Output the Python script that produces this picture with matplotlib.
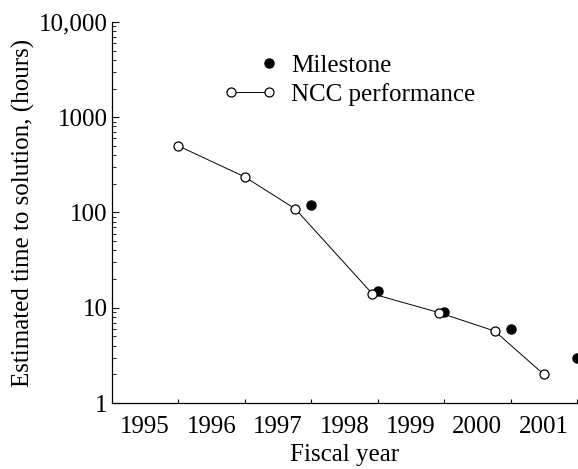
import numpy as np
import matplotlib
matplotlib.use("Agg")
import matplotlib.pyplot as plt
from matplotlib.legend_handler import HandlerLine2D

# Datos
fiscal_years = [1995, 1996, 1997, 1998, 1999, 2000, 2001]

ncc_x = [1996.0, 1997.0, 1997.76, 1998.92, 1999.92, 2000.76, 2001.5]
ncc_hours = [500, 236, 109, 14, 8.9, 5.7, 2.0]

milestone_x = [1998.0, 1999.0, 2000.0, 2001.0, 2002.0]
milestone_hours = [120, 15, 9, 6, 3]

ytick_values = [1, 10, 100, 1000, 10000]
ytick_labels = ["1", "10", "100", "1000", "10,000"]


class RightDot(HandlerLine2D):
    # marcador solo en el extremo derecho del manejador de la leyenda
    def create_artists(self, *args, **kwargs):
        arts = super().create_artists(*args, **kwargs)
        arts[0].set_markevery([len(arts[0].get_xdata()) - 1])
        return arts


plt.rcParams['font.family'] = ['Liberation Serif', 'DejaVu Serif']
fs = 18

fig = plt.figure(figsize=(5.78, 4.69), dpi=100)
ax = fig.add_axes([112 / 578, 66 / 469, 465 / 578, 381 / 469])

ncc, = ax.plot(ncc_x, ncc_hours, color='black', lw=0.7, marker='o', ms=6.5,
               mfc='white', mec='black', mew=0.9, label='NCC performance', zorder=3)
ms, = ax.plot(milestone_x, milestone_hours, ls='none', marker='o', ms=6.5,
              color='black', label='Milestone', clip_on=False, zorder=2)

ax.set_yscale('log')
ax.set_ylim(1, 10000)
ax.set_xlim(1995, 2002)

ax.set_yticks(ytick_values)
ax.set_yticklabels(ytick_labels)
ax.yaxis.set_minor_locator(matplotlib.ticker.LogLocator(base=10, subs=np.arange(2, 10)))
ax.yaxis.set_minor_formatter(matplotlib.ticker.NullFormatter())

# marcas en los limites de cada anio, etiquetas centradas en el intervalo
ax.set_xticks([y + 1 for y in fiscal_years])
ax.set_xticklabels([])
ax.set_xticks([y + 0.5 for y in fiscal_years], [str(y) for y in fiscal_years], minor=True)

ax.tick_params(axis='y', which='major', direction='in', length=5, width=0.8, pad=3, labelsize=fs)
ax.tick_params(axis='y', which='minor', direction='in', length=3, width=0.6)
ax.tick_params(axis='x', which='major', direction='in', length=3, width=0.8)
ax.tick_params(axis='x', which='minor', length=0, pad=9.5, labelsize=fs)

for side in ['top', 'right']:
    ax.spines[side].set_visible(False)
for side in ['left', 'bottom']:
    ax.spines[side].set_linewidth(0.9)

ax.set_xlabel('Fiscal year', fontsize=fs, labelpad=4)
ax.set_ylabel('Estimated time to solution, (hours)', fontsize=fs, labelpad=3)

ax.legend([ms, ncc], ['Milestone', 'NCC performance'], loc='upper left',
          bbox_to_anchor=(0.24, 0.915), frameon=False, fontsize=fs, numpoints=2,
          handlelength=2.1, handletextpad=0.6, borderpad=0, borderaxespad=0,
          labelspacing=0.25, handler_map={ms: RightDot(numpoints=2)})

fig.savefig('out.png', dpi=100)
